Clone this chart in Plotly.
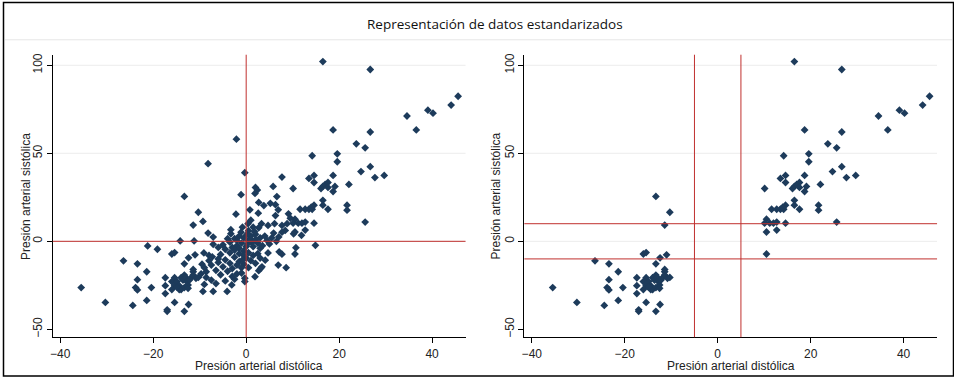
import plotly.graph_objects as go

# ---------------- data ----------------
# Presión arterial distólica (x) / sistólica (y), standardized
# lower-left group
ll_x = [-35.5, -30.3, -26.4, -23.4, -21.4, -23.4, -23.8, -23.4, -20.4, -24.4, -21.4,
        -17.4, -17.4, -17.4, -17.0, -17.0, -15.4, -13.3, -12.4, -16.0, -15.4, -12.4,
        -11.0, -13.3, -11.4, -11.4, -13.3, -10.3, -11.4,
        -15.4, -16.0, -15.4, -16.0, -14.9, -14.4, -14.0, -13.6, -13.3, -13.0, -12.8,
        -12.5, -12.2, -11.8, -11.4, -10.8, -10.3, -14.0, -13.3, -14.4, -12.5, -14.9]
ll_y = [-26.3, -34.7, -11.1, -12.8, -17.3, -21.8, -26.3, -27.6, -26.3, -36.4, -33.6,
        -20.7, -25.2, -29.7, -38.9, -39.8, -34.7, -39.8, -35.9, -7.2, -6.4, -9.4,
        -7.7, -12.8, -16.0, -17.3, 25.5, 16.5, 9.2,
        -20.7, -22.9, -25.2, -27.4, -22.9, -25.2, -20.7, -22.0, -19.2, -20.5, -22.9,
        -24.8, -22.0, -20.5, -19.2, -21.0, -20.5, -27.4, -26.3, -27.4, -26.7, -26.0]

# upper-right group
ur_x = [16.5, 26.7, 45.6, 44.1, 39.1, 40.2, 34.6, 36.6, 18.7, 26.7, 23.7, 25.6,
        14.2, 19.6, 19.6, 24.7, 26.7, 27.7, 29.7, 18.7, 22.1, 13.5, 14.6, 14.6,
        10.1, 16.1, 16.5, 17.0, 17.6, 17.6, 18.7, 19.1, 16.5, 16.5, 17.6, 21.7,
        21.7, 11.6, 12.7, 13.5, 14.2, 14.6, 14.0, 10.5, 10.1, 11.2, 12.0, 12.7,
        14.6, 10.5, 12.7, 25.6, 10.5]
ur_y = [102.1, 97.6, 82.4, 77.4, 74.5, 72.8, 71.2, 63.3, 63.3, 62.1, 55.4, 53.1,
        48.6, 49.7, 45.2, 39.6, 42.4, 36.2, 37.4, 37.4, 32.3, 35.7, 37.4, 33.4,
        30.0, 30.0, 31.2, 32.3, 33.4, 30.6, 28.3, 31.2, 23.3, 20.5, 18.2, 20.5,
        17.7, 18.2, 18.2, 18.2, 18.2, 20.5, 19.4, 12.6, 10.3, 10.3, 10.3, 10.9,
        10.3, 5.3, 6.4, 10.9, -7.2]

# far from centre on x but close to 0 on y
side_x = [-21.2, -19.1, -14.2, -11.2, 14.9, 10.7, 11.9, 10.2]
side_y = [-2.6, -4.5, 0.2, 0.2, -2.3, -3.6, 3.4, 4.3]

# central cloud
mid_x = [-8.2, -2.1, -0.3, -1.1, 0.8, -2.2, -9.3, -8.2, -7.1, -3.3, -3.3, -1.1, 0.4, -7.1,
         7.7, 2.0, 2.4, 1.9, 5.8, 6.6, 2.7, 3.8, 5.2, 6.3, 6.9, 2.6, 9.1, 9.5, 6.3, 7.7,
         8.8, 8.4, 7.7, 6.1, 5.9, 4.7, 3.3, 2.7,
         -3.5, -2.5, -2.0, -1.0, -0.5, 0.0, 0.5, 1.0, -1.5, -3.0, 0.3, 1.2, 1.0, 1.5,
         0.5, 2.0, 3.0, 4.0, 1.0, 2.5, 4.5, 5.5, 1.5, 3.5, 6.5, 7.0, 5.0, -1.5, -0.8,
         0.2, -2.5, -4.0, -5.0, -4.5, -6.0, 2.0, 3.0, -0.5, 1.8, -2.0,
         -0.3, -0.3, 1.9, 2.7, 3.1, 3.4, 4.1, 4.7, 6.9, 8.6, 7.1, 7.7, 0.5, 1.5, 0.0,
         2.5, 1.0, 2.0, -0.5, 3.0, 0.5,
         -9.3, -7.1, -4.1, -3.1, -8.6, -8.6, -9.1, -8.0, -7.3, -9.5, -9.0, -7.5, -6.5,
         -6.0, -5.5, -5.0, -4.5, -4.0, -3.5, -3.0, -2.5, -2.0, -1.5, -1.0, -0.5, -2.5,
         -4.5, -6.5, -7.5, -9.0, -5.5, -3.5, -1.5, -6.0, -1.0, -3.0, -8.0, -9.7, -2.0,
         -0.8]
mid_y = [44.1, 58.0, 39.0, 26.5, 17.9, 15.4, 11.3, 4.7, 2.4, 6.6, 4.3, 5.2, 10.0, -1.7,
         36.5, 30.6, 29.1, 27.2, 31.2, 25.4, 22.1, 20.3, 21.6, 20.8, 17.9, 16.0, 15.6,
         13.1, 14.6, 9.0, 10.0, 6.2, 5.2, 10.0, 4.7, 9.0, 10.0, 7.7,
         -0.5, 1.5, -2.5, -1.0, 2.0, -3.0, 0.5, 3.0, -4.0, -3.5, -1.5, -0.8, 12.0, 8.0,
         6.0, 4.0, 2.0, 3.0, 1.0, -1.0, 0.5, 2.0, -3.0, -2.5, 0.0, 2.5, -1.5, 3.0, 8.0,
         4.0, -5.0, 1.5, -2.0, -4.5, -3.5, 1.0, -4.0, -5.5, 5.5, 0.5,
         -21.0, -22.9, -20.1, -16.7, -15.4, -14.5, -10.7, -6.6, -13.5, -15.0, -6.0, -7.3,
         -6.5, -8.0, -9.5, -7.0, -11.0, -12.5, -13.0, -9.5, -15.0,
         -28.5, -28.5, -28.5, -24.8, -17.3, -20.5, -6.6, -8.0, -8.8, -13.0, -15.0, -13.5,
         -16.5, -12.0, -19.0, -14.5, -10.5, -17.0, -12.5, -15.5, -9.0, -18.5, -11.5,
         -15.0, -8.0, -21.5, -22.5, -24.0, -22.0, -24.5, -7.5, -6.5, -7.0, -10.0, -18.0,
         -20.0, -11.0, -18.5, -13.5, -10.5]

x_all = ll_x + ur_x + side_x + mid_x
y_all = ll_y + ur_y + side_y + mid_y

# right panel: observations far from the centre on both variables
x_sel = [a for a, b in zip(x_all, y_all) if abs(a) >= 10 and abs(b) >= 5]
y_sel = [b for a, b in zip(x_all, y_all) if abs(a) >= 10 and abs(b) >= 5]

x_ticks = [-40, -20, 0, 20, 40]
y_ticks = [-50, 0, 50, 100]
grid_vals = [0, 50, 100]
left_ref_x = [0]
left_ref_y = [0]
right_ref_x = [-5, 5]
right_ref_y = [-10, 10]

title_text = "Representación de datos estandarizados"
x_title = "Presión arterial distólica"
y_title = "Presión arterial sistólica"

# ---------------- figure ----------------
W, H = 954, 384


def px_x(p):
    return p / W


def px_y(p):
    return 1 - p / H


MARK = "#1d3b5b"
RED = "#c0302e"
FONT = "Liberation Sans, Arial, sans-serif"

fig = go.Figure()
fig.add_trace(go.Scatter(x=x_all, y=y_all, mode="markers", xaxis="x", yaxis="y",
                         marker=dict(symbol="diamond", size=6, color=MARK,
                                     line=dict(width=0)), showlegend=False))
fig.add_trace(go.Scatter(x=x_sel, y=y_sel, mode="markers", xaxis="x2", yaxis="y2",
                         marker=dict(symbol="diamond", size=6, color=MARK,
                                     line=dict(width=0)), showlegend=False))

x_range = [-41.6, 47.2]
y_range = [-54.5, 106]

ydom = [px_y(337), px_y(53)]
common_x = dict(range=x_range, tickvals=x_ticks, showgrid=False, zeroline=False,
                showline=True, linecolor="black", linewidth=1, ticks="outside",
                ticklen=5, tickcolor="black", tickfont=dict(family=FONT, size=12, color="#222"))
common_y = dict(range=y_range, tickvals=y_ticks, showgrid=False, zeroline=False,
                showline=True, linecolor="black", linewidth=1, ticks="outside",
                ticklen=5, tickcolor="black", tickangle=-90,
                tickfont=dict(family=FONT, size=12, color="#222"))

fig.update_layout(
    width=W, height=H,
    margin=dict(l=0, r=0, t=0, b=0),
    paper_bgcolor="white", plot_bgcolor="white",
    xaxis=dict(domain=[px_x(50), px_x(464)], anchor="y", **common_x),
    yaxis=dict(domain=ydom, anchor="x", **common_y),
    xaxis2=dict(domain=[px_x(523), px_x(937)], anchor="y2", **common_x),
    yaxis2=dict(domain=ydom, anchor="x2", **common_y),
)

shapes = []
for xa, ya in [("x", "y"), ("x2", "y2")]:
    for g in grid_vals:
        shapes.append(dict(type="line", xref=f"{xa} domain", yref=ya, x0=0, x1=1, y0=g, y1=g,
                           line=dict(color="#ececec", width=1), layer="below"))

for v in left_ref_x:
    shapes.append(dict(type="line", xref="x", yref="y domain", x0=v, x1=v, y0=0, y1=1,
                       line=dict(color=RED, width=1)))
for v in left_ref_y:
    shapes.append(dict(type="line", xref="x domain", yref="y", x0=0, x1=1, y0=v, y1=v,
                       line=dict(color=RED, width=1)))
for v in right_ref_x:
    shapes.append(dict(type="line", xref="x2", yref="y2 domain", x0=v, x1=v, y0=0, y1=1,
                       line=dict(color=RED, width=1)))
for v in right_ref_y:
    shapes.append(dict(type="line", xref="x2 domain", yref="y2", x0=0, x1=1, y0=v, y1=v,
                       line=dict(color=RED, width=1)))

# title separator and outer frame
shapes.append(dict(type="line", xref="paper", yref="paper", x0=px_x(2), x1=px_x(952),
                   y0=px_y(38), y1=px_y(38), line=dict(color="#e6e6e6", width=1)))
shapes.append(dict(type="rect", xref="paper", yref="paper", x0=px_x(0.5), x1=px_x(953.5),
                   y0=px_y(376), y1=px_y(0.5), line=dict(color="black", width=1.5)))
fig.update_layout(shapes=shapes)

ann = [
    dict(text=title_text, x=px_x(494), y=px_y(22), xref="paper", yref="paper",
         showarrow=False, font=dict(family="Open Sans, Noto Sans, sans-serif", size=13.5, color="#111"),
         xanchor="center", yanchor="middle"),
    dict(text=x_title, x=px_x(257), y=px_y(366), xref="paper", yref="paper",
         showarrow=False, font=dict(family=FONT, size=12, color="#222"),
         xanchor="center", yanchor="middle"),
    dict(text=x_title, x=px_x(730), y=px_y(366), xref="paper", yref="paper",
         showarrow=False, font=dict(family=FONT, size=12, color="#222"),
         xanchor="center", yanchor="middle"),
    dict(text=y_title, x=px_x(23), y=px_y(195), xref="paper", yref="paper", textangle=-90,
         showarrow=False, font=dict(family=FONT, size=12, color="#222"),
         xanchor="center", yanchor="middle"),
    dict(text=y_title, x=px_x(495), y=px_y(195), xref="paper", yref="paper", textangle=-90,
         showarrow=False, font=dict(family=FONT, size=12, color="#222"),
         xanchor="center", yanchor="middle"),
]
fig.update_layout(annotations=ann)

fig.write_html("out.html", config={"displayModeBar": False},
               post_script="document.body.style.margin='0';")
